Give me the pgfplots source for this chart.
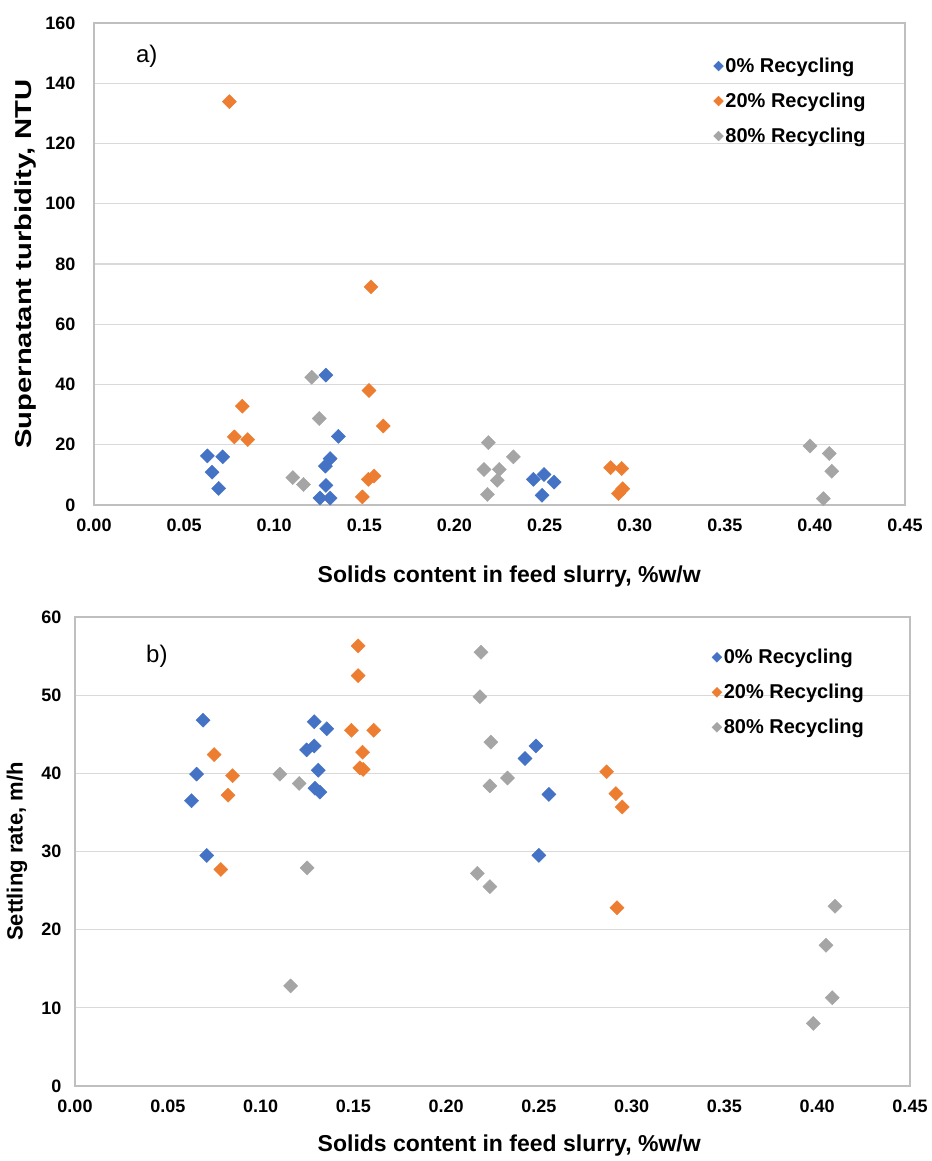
\documentclass[border=0pt]{standalone}
\usepackage{pgfplots}
\pgfplotsset{compat=1.18}
\usepackage{fontspec}
\setmainfont{Liberation Sans}
\definecolor{cA}{HTML}{4472C4}
\definecolor{cB}{HTML}{ED7D31}
\definecolor{cC}{HTML}{A5A5A5}
\definecolor{gridc}{HTML}{D9D9D9}
\definecolor{framec}{HTML}{BFBFBF}
\pgfplotsset{
  every axis/.style={scale only axis, anchor=south west,
    axis line style={framec, line width=1.2pt},
    major grid style={gridc, line width=1.2pt},
    ymajorgrids, xmin=0, xmax=0.45, xtick={0,0.05,...,0.45},
    major tick length=0pt,
    /pgf/number format/assume math mode=true,
    tick label style={font=\fontsize{18}{18}\selectfont\bfseries},
    xticklabel style={yshift=-10pt, /pgf/number format/.cd, fixed, fixed zerofill, precision=2},
    every axis x label/.style={anchor=center, font=\fontsize{23}{24}\selectfont\bfseries},
    every axis y label/.style={anchor=center, rotate=90},
    legend style={draw=none, fill=none, font=\fontsize{20}{20}\selectfont\bfseries, row sep=15pt, anchor=north west},
    legend cell align=left,
    legend image code/.code={\draw[##1, mark size=3.5pt] plot coordinates {(0pt,0pt)};},
    clip=false},
  sA/.style={only marks, mark=square*, mark size=5pt, mark options={rotate=45, draw=cA, fill=cA}},
  sB/.style={only marks, mark=square*, mark size=5pt, mark options={rotate=45, draw=cB, fill=cB}},
  sC/.style={only marks, mark=square*, mark size=5pt, mark options={rotate=45, draw=cC, fill=cC}},
}
\begin{document}
\begin{tikzpicture}[x=1pt,y=1pt]
\path[use as bounding box] (0,0) rectangle (931,1161);
% ---------------- top ----------------
\begin{axis}[at={(94pt,656pt)}, width=811pt, height=482pt,
  ymin=0, ymax=160, ytick={0,20,...,160},
  yticklabel style={xshift=-15pt},
  xlabel={Solids content in feed slurry, \%w/w},
  ylabel={\scalebox{1.27}[1]{Supernatant turbidity, NTU}},
  xlabel style={at={(axis description cs:0.512,-0.149)}},
  ylabel style={at={(axis description cs:-0.085,0.5)}, font=\fontsize{23}{24}\selectfont\bfseries},
  legend style={at={(0.76,0.936)}}]
\addplot[sA] coordinates {(0.0629,16.3)(0.0714,16.0)(0.0655,10.9)(0.0692,5.5)(0.1287,43.1)(0.1356,22.8)(0.1310,15.4)(0.1284,12.9)(0.1287,6.5)(0.1254,2.3)(0.1310,2.3)(0.2438,8.5)(0.2497,10.1)(0.2553,7.6)(0.2486,3.2)};
\addplot[sB] coordinates {(0.0751,133.9)(0.0823,32.8)(0.0779,22.6)(0.0853,21.7)(0.1526,38.0)(0.1605,26.2)(0.1522,8.5)(0.1554,9.6)(0.1489,2.7)(0.1537,72.4)(0.2867,12.4)(0.2928,12.1)(0.2934,5.4)(0.2910,3.8)};
\addplot[sC] coordinates {(0.1208,42.4)(0.1250,28.7)(0.1103,9.1)(0.1162,6.8)(0.2188,20.7)(0.2327,16.0)(0.2164,11.8)(0.2249,11.8)(0.2238,8.2)(0.2183,3.5)(0.3973,19.6)(0.4080,17.1)(0.4094,11.2)(0.4047,2.1)};
\legend{0\% Recycling, 20\% Recycling, 80\% Recycling}
\node[font=\fontsize{24}{24}\selectfont] at (rel axis cs:0.065,0.93) {a)};
\end{axis}
% ---------------- bottom ----------------
\begin{axis}[at={(75pt,75pt)}, width=835pt, height=469pt,
  ymin=0, ymax=60, ytick={0,10,...,60},
  yticklabel style={xshift=-10pt},
  xlabel={Solids content in feed slurry, \%w/w},
  ylabel={Settling rate, m/h},
  xlabel style={at={(axis description cs:0.52,-0.128)}},
  ylabel style={at={(axis description cs:-0.0695,0.5)}, font=\fontsize{22}{24}\selectfont\bfseries},
  legend style={at={(0.759,0.94)}}]
\addplot[sA] coordinates {(0.069,46.8)(0.0655,39.9)(0.0628,36.5)(0.071,29.5)(0.1289,46.6)(0.1357,45.7)(0.1248,43.0)(0.1289,43.5)(0.1311,40.4)(0.1293,38.1)(0.1320,37.6)(0.2484,43.5)(0.2425,41.9)(0.2554,37.3)(0.2500,29.5)};
\addplot[sB] coordinates {(0.1526,56.3)(0.1526,52.5)(0.1490,45.5)(0.1610,45.5)(0.1550,42.7)(0.1535,40.7)(0.1553,40.5)(0.0750,42.4)(0.0849,39.7)(0.0825,37.2)(0.0786,27.7)(0.2865,40.2)(0.2915,37.4)(0.2949,35.7)(0.2921,22.8)};
\addplot[sC] coordinates {(0.1104,39.9)(0.1208,38.7)(0.1251,27.9)(0.1162,12.8)(0.2188,55.5)(0.2182,49.8)(0.2241,44.0)(0.2331,39.4)(0.2236,38.4)(0.2168,27.2)(0.2236,25.5)(0.4096,23.0)(0.4047,18.0)(0.4081,11.3)(0.3979,8.0)};
\legend{0\% Recycling, 20\% Recycling, 80\% Recycling}
\node[font=\fontsize{24}{24}\selectfont] at (rel axis cs:0.098,0.917) {b)};
\end{axis}
\end{tikzpicture}
\end{document}
